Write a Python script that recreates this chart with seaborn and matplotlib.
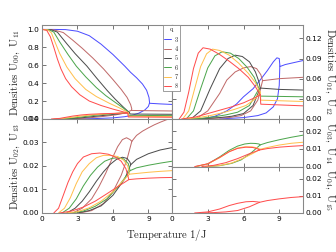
import matplotlib
matplotlib.use("Agg")
import matplotlib.pyplot as plt
import matplotlib.ticker as mticker
import pandas as pd
import seaborn as sns

# ---------------- data ----------------
Q_LEVELS = ["3", "4", "5", "6", "7", "8"]
COLORS = ["#4d4dff", "#c06a6a", "#4d4d4d", "#4da64d", "#ffc04d", "#ff4d4d"]

# Panel A: U00 ordered branch
A_ord_T = {
    "3": [0, 1, 2, 3, 4, 5, 6, 7, 7.5, 8, 8.5, 8.85, 9.05, 9.1],
    "4": [0, 1, 1.8, 2.6, 3.4, 4.3, 5.2, 6.0, 6.7, 7.2, 7.5, 7.6, 7.55],
    "5": [0, 0.8, 1.3, 2.1, 2.8, 3.8, 4.6, 5.5, 6.2, 6.9, 7.4],
    "6": [0, 0.6, 1.0, 1.5, 2.2, 2.9, 3.7, 4.6, 5.4, 6.3, 6.9, 7.3],
    "7": [0, 0.5, 0.8, 1.1, 1.5, 2.1, 2.8, 3.7, 4.6, 5.7, 6.6, 7.3],
    "8": [0, 0.4, 0.7, 1.0, 1.3, 1.6, 2.0, 2.5, 3.2, 4.0, 5.0, 6.0, 7.25],
}
A_ord_v = {
    "3": [1, 1, 0.998, 0.98, 0.93, 0.835, 0.72, 0.59, 0.52, 0.46, 0.39, 0.32, 0.24, 0.18],
    "4": [1, 0.995, 0.965, 0.88, 0.79, 0.68, 0.56, 0.44, 0.33, 0.24, 0.16, 0.11, 0.095],
    "5": [1, 0.995, 0.97, 0.84, 0.73, 0.59, 0.46, 0.32, 0.22, 0.13, 0.07],
    "6": [1, 0.995, 0.97, 0.86, 0.72, 0.59, 0.47, 0.35, 0.26, 0.175, 0.12, 0.075],
    "7": [1, 0.995, 0.96, 0.86, 0.73, 0.58, 0.45, 0.33, 0.25, 0.175, 0.12, 0.07],
    "8": [1, 0.99, 0.92, 0.8, 0.67, 0.56, 0.45, 0.36, 0.27, 0.2, 0.15, 0.11, 0.066],
}
# Panel A: U11 (rises from zero)
A_low_T = {
    "3": [3, 4.5, 6, 7, 7.6, 8.2, 8.7, 9.0, 9.1],
    "4": [2.0, 3.2, 4.2, 5.2, 6.2, 7.0, 7.55],
    "5": [1.6, 2.6, 3.5, 4.4, 5.4, 6.4, 7.0, 7.4],
    "6": [1.2, 2.2, 3.0, 3.8, 4.7, 5.7, 6.6, 7.3],
    "7": [1.0, 1.8, 2.5, 3.3, 4.2, 5.2, 6.2, 7.3],
    "8": [0.8, 1.5, 2.0, 2.6, 3.3, 4.0, 5.0, 6.0, 7.25],
}
A_low_v = {
    "3": [0, 0.004, 0.012, 0.025, 0.04, 0.065, 0.1, 0.14, 0.18],
    "4": [0, 0.005, 0.015, 0.028, 0.045, 0.065, 0.095],
    "5": [0, 0.005, 0.015, 0.028, 0.042, 0.056, 0.064, 0.07],
    "6": [0, 0.006, 0.016, 0.03, 0.044, 0.056, 0.065, 0.075],
    "7": [0, 0.006, 0.018, 0.032, 0.045, 0.055, 0.062, 0.07],
    "8": [0, 0.006, 0.018, 0.032, 0.044, 0.052, 0.058, 0.062, 0.066],
}
# Panel A: high-temperature branch
A_hi_T = {
    "3": [9.1, 10, 11],
    "4": [7.55, 9, 11],
    "5": [7.4, 7.45, 11],
    "6": [7.3, 7.35, 11],
    "7": [7.3, 7.35, 11],
    "8": [7.25, 7.3, 11],
}
A_hi_v = {
    "3": [0.175, 0.168, 0.162],
    "4": [0.095, 0.092, 0.089],
    "5": [0.07, 0.055, 0.052],
    "6": [0.075, 0.04, 0.037],
    "7": [0.07, 0.03, 0.026],
    "8": [0.066, 0.022, 0.019],
}

# Panel B: U01 bells
B_ord_T = {
    "3": [2.6, 3.6, 4.6, 5.4, 6.0, 6.8, 7.4, 8.0, 8.5, 8.8, 9.0, 9.05],
    "4": [2.0, 3.0, 4.0, 4.6, 5.3, 6.0, 6.6, 7.1, 7.45, 7.6],
    "5": [1.6, 2.4, 3.2, 4.0, 4.7, 5.3, 5.9, 6.5, 7.0, 7.3, 7.4],
    "6": [1.2, 1.8, 2.4, 3.0, 3.6, 4.2, 4.9, 5.6, 6.3, 6.9, 7.3],
    "7": [0.9, 1.4, 1.9, 2.4, 2.9, 3.4, 4.0, 4.8, 5.6, 6.4, 7.0, 7.4],
    "8": [0.6, 1.0, 1.4, 1.8, 2.2, 2.6, 3.2, 4.0, 4.8, 5.6, 6.4, 7.0, 7.4],
}
B_ord_v = {
    "3": [0, 0.004, 0.012, 0.022, 0.033, 0.045, 0.058, 0.072, 0.085, 0.091, 0.09, 0.08],
    "4": [0, 0.012, 0.038, 0.058, 0.07, 0.076, 0.078, 0.075, 0.066, 0.057],
    "5": [0, 0.012, 0.045, 0.075, 0.09, 0.095, 0.093, 0.085, 0.07, 0.055, 0.046],
    "6": [0, 0.012, 0.045, 0.076, 0.094, 0.1, 0.098, 0.09, 0.077, 0.062, 0.045],
    "7": [0, 0.012, 0.045, 0.078, 0.097, 0.104, 0.102, 0.095, 0.083, 0.068, 0.054, 0.04],
    "8": [0, 0.01, 0.04, 0.075, 0.098, 0.106, 0.104, 0.096, 0.086, 0.075, 0.062, 0.048, 0.036],
}
# Panel B: U12
B_low_T = {
    "3": [4, 6, 7.2, 7.9, 8.5, 8.85, 9.0, 9.05],
    "4": [2.2, 3.5, 4.8, 5.8, 6.6, 7.2, 7.6],
    "5": [1.7, 3, 4, 5, 6, 6.8, 7.4],
    "6": [1.3, 2.5, 3.5, 4.5, 5.5, 6.5, 7.3],
    "7": [1.0, 2.2, 3.2, 4.2, 5.2, 6.2, 7, 7.4],
    "8": [0.8, 2, 3, 4, 5, 6, 7, 7.4],
}
B_low_v = {
    "3": [0, 0.002, 0.005, 0.009, 0.018, 0.03, 0.05, 0.08],
    "4": [0, 0.001, 0.002, 0.005, 0.012, 0.028, 0.057],
    "5": [0, 0.001, 0.002, 0.004, 0.008, 0.02, 0.046],
    "6": [0, 0.001, 0.003, 0.006, 0.01, 0.02, 0.045],
    "7": [0, 0.002, 0.005, 0.009, 0.014, 0.02, 0.03, 0.04],
    "8": [0, 0.003, 0.008, 0.013, 0.018, 0.024, 0.032, 0.036],
}
B_hi_T = {
    "3": [9.05, 9.5, 10, 11],
    "4": [7.6, 9, 11],
    "5": [7.4, 9, 11],
    "6": [7.3, 7.4, 11],
    "7": [7.4, 7.45, 11],
    "8": [7.4, 7.45, 11],
}
B_hi_v = {
    "3": [0.078, 0.081, 0.083, 0.087],
    "4": [0.057, 0.06, 0.062],
    "5": [0.046, 0.044, 0.043],
    "6": [0.045, 0.034, 0.033],
    "7": [0.04, 0.028, 0.026],
    "8": [0.036, 0.022, 0.0195],
}

# Panel C: U02 bells, U13, high-T branch
C_ord_T = {
    "4": [2.6, 3.4, 4.2, 4.8, 5.4, 5.9, 6.4, 6.8, 7.15, 7.45, 7.6],
    "5": [2.1, 2.8, 3.4, 4.0, 4.6, 5.2, 5.8, 6.3, 6.8, 7.2, 7.45, 7.5],
    "6": [1.7, 2.3, 2.9, 3.5, 4.1, 4.7, 5.3, 5.9, 6.4, 6.9, 7.3, 7.45],
    "7": [1.4, 1.9, 2.4, 2.9, 3.4, 4.0, 4.6, 5.2, 5.8, 6.4, 6.9, 7.25, 7.4],
    "8": [1.0, 1.4, 1.8, 2.2, 2.6, 3.0, 3.5, 4.2, 4.9, 5.6, 6.2, 6.7, 7.1, 7.35],
}
C_ord_v = {
    "4": [0, 0.002, 0.006, 0.011, 0.017, 0.0228, 0.0282, 0.0312, 0.032, 0.0312, 0.0305],
    "5": [0, 0.002, 0.005, 0.009, 0.0135, 0.0175, 0.0208, 0.0228, 0.0237, 0.0232, 0.0215, 0.0205],
    "6": [0, 0.002, 0.006, 0.0115, 0.016, 0.0195, 0.022, 0.0232, 0.0235, 0.023, 0.021, 0.018],
    "7": [0, 0.002, 0.0065, 0.0125, 0.0175, 0.021, 0.0235, 0.0245, 0.0245, 0.024, 0.0225, 0.02, 0.0165],
    "8": [0, 0.002, 0.0075, 0.013, 0.0175, 0.021, 0.0238, 0.0252, 0.0255, 0.025, 0.0238, 0.022, 0.0188, 0.0142],
}
C_low_T = {
    "4": [3.2, 4.2, 5.2, 6.0, 6.7, 7.2, 7.6],
    "5": [3, 4, 5, 6, 7, 7.5],
    "6": [2.5, 3.5, 4.5, 5.5, 6.5, 7.45],
    "7": [2, 3, 4, 5, 6, 7, 7.4],
    "8": [1.5, 2.5, 3.5, 4.5, 5.5, 6.5, 7.35],
}
C_low_v = {
    "4": [0, 0.001, 0.004, 0.009, 0.016, 0.023, 0.0305],
    "5": [0, 0.001, 0.003, 0.0075, 0.0145, 0.0205],
    "6": [0, 0.0008, 0.0028, 0.006, 0.0115, 0.018],
    "7": [0, 0.0005, 0.0022, 0.005, 0.009, 0.0145, 0.0165],
    "8": [0, 0.0008, 0.0025, 0.005, 0.0082, 0.0115, 0.0142],
}
C_hi_T = {
    "4": [7.6, 8, 8.5, 9, 9.5, 10, 10.5, 11],
    "5": [7.5, 8, 9, 10, 11],
    "6": [7.45, 8, 9, 10, 11],
    "7": [7.4, 8, 9, 10, 11],
    "8": [7.35, 8, 9, 10, 11],
}
C_hi_v = {
    "4": [0.0305, 0.033, 0.0348, 0.0362, 0.0375, 0.0386, 0.0396, 0.0404],
    "5": [0.0205, 0.0228, 0.0252, 0.0268, 0.0278],
    "6": [0.018, 0.0192, 0.0203, 0.0212, 0.022],
    "7": [0.0165, 0.0168, 0.0173, 0.0177, 0.018],
    "8": [0.0142, 0.0145, 0.0148, 0.015, 0.0151],
}

# Panel D1: U03 bells, U14, high-T
D1_ord_T = {
    "6": [2.0, 3.0, 4.0, 4.8, 5.5, 6.1, 6.6, 7.0, 7.3, 7.4],
    "7": [2.0, 3.0, 4.0, 4.8, 5.5, 6.1, 6.7, 7.1, 7.4],
    "8": [1.9, 3.0, 4.0, 4.8, 5.5, 6.2, 6.8, 7.2, 7.35],
}
D1_ord_v = {
    "6": [0, 0.0015, 0.0055, 0.0092, 0.0116, 0.0128, 0.0132, 0.0131, 0.0128, 0.0123],
    "7": [0, 0.0015, 0.005, 0.0085, 0.0105, 0.0112, 0.0112, 0.0107, 0.0098],
    "8": [0, 0.0016, 0.0052, 0.0084, 0.0103, 0.011, 0.0108, 0.01, 0.0094],
}
D1_low_T = {
    "6": [3, 4, 5, 5.8, 6.6, 7.4],
    "7": [2.8, 4, 5, 6, 6.8, 7.4],
    "8": [2.5, 3.5, 4.5, 5.5, 6.5, 7.35],
}
D1_low_v = {
    "6": [0, 0.0005, 0.0018, 0.0038, 0.0075, 0.0123],
    "7": [0, 0.0006, 0.002, 0.0048, 0.0075, 0.0098],
    "8": [0, 0.0007, 0.0022, 0.0045, 0.0073, 0.0094],
}
D1_hi_T = {
    "6": [7.4, 8, 9, 10, 11],
    "7": [7.4, 8, 9, 10, 11],
    "8": [7.35, 8, 9, 10, 11],
}
D1_hi_v = {
    "6": [0.0123, 0.0136, 0.0152, 0.0166, 0.0178],
    "7": [0.0098, 0.0108, 0.0122, 0.0132, 0.0138],
    "8": [0.0094, 0.0102, 0.011, 0.0115, 0.0119],
}

# Panel D2: U04 bell, U15, high-T
D2_ord_T = {"8": [1.9, 3.0, 4.0, 4.8, 5.5, 6.2, 6.8, 7.2, 7.35]}
D2_ord_v = {"8": [0, 0.0006, 0.0023, 0.0043, 0.0056, 0.0065, 0.0067, 0.0064, 0.0062]}
D2_low_T = {"8": [2.5, 3.5, 4.5, 5.5, 6.5, 7.35]}
D2_low_v = {"8": [0, 0.0002, 0.0006, 0.0014, 0.0036, 0.0062]}
D2_hi_T = {"8": [7.35, 8, 9, 10, 11]}
D2_hi_v = {"8": [0.0062, 0.0072, 0.0082, 0.009, 0.0095]}

XTICKS = [0, 3, 6, 9]

# ---------------- build table ----------------
rows = []


def add(panel, branch, Td, vd):
    for q in Td:
        for t, v in zip(Td[q], vd[q]):
            rows.append({"panel": panel, "q": q, "seg": f"{branch}{q}", "T": t, "v": v})


for p, groups in {
    "A": [("o", A_ord_T, A_ord_v), ("l", A_low_T, A_low_v), ("h", A_hi_T, A_hi_v)],
    "B": [("o", B_ord_T, B_ord_v), ("l", B_low_T, B_low_v), ("h", B_hi_T, B_hi_v)],
    "C": [("o", C_ord_T, C_ord_v), ("l", C_low_T, C_low_v), ("h", C_hi_T, C_hi_v)],
    "D1": [("o", D1_ord_T, D1_ord_v), ("l", D1_low_T, D1_low_v), ("h", D1_hi_T, D1_hi_v)],
    "D2": [("o", D2_ord_T, D2_ord_v), ("l", D2_low_T, D2_low_v), ("h", D2_hi_T, D2_hi_v)],
}.items():
    for b, Td, vd in groups:
        add(p, b, Td, vd)
df = pd.DataFrame(rows)

# ---------------- style ----------------
sns.set_style("ticks")
plt.rcParams.update({
    "mathtext.fontset": "cm",
    "font.family": ["DejaVu Sans"],
    "axes.edgecolor": "#888888",
    "axes.linewidth": 0.8,
    "xtick.color": "#555555",
    "ytick.color": "#555555",
    "xtick.labelcolor": "black",
    "ytick.labelcolor": "black",
})

fig = plt.figure(figsize=(3.5, 2.625), dpi=96)
axes = {
    "A": fig.add_axes([0.125, 0.528, 0.387, 0.373]),
    "B": fig.add_axes([0.512, 0.528, 0.390, 0.373]),
    "C": fig.add_axes([0.125, 0.155, 0.387, 0.373]),
    "D1": fig.add_axes([0.512, 0.339, 0.390, 0.189]),
    "D2": fig.add_axes([0.512, 0.155, 0.390, 0.184]),
}
ylims = {"A": (0, 1.05), "B": (0, 0.14), "C": (0, 0.04), "D1": (0, 0.027), "D2": (0, 0.027)}
yticks = {
    "A": [0, 0.2, 0.4, 0.6, 0.8, 1.0],
    "B": [0, 0.03, 0.06, 0.09, 0.12],
    "C": [0, 0.01, 0.02, 0.03, 0.04],
    "D1": [0, 0.01, 0.02],
    "D2": [0, 0.01, 0.02],
}
pal = dict(zip(Q_LEVELS, COLORS))

for p, ax in axes.items():
    sub = df[df.panel == p]
    sns.lineplot(data=sub, x="T", y="v", hue="q", hue_order=Q_LEVELS, palette=pal,
                 units="seg", estimator=None, sort=False, lw=0.75,
                 legend=(p == "B"), ax=ax)
    ax.set_xlim(0, 11)
    ax.set_ylim(*ylims[p])
    ax.set_xticks(XTICKS)
    ax.set_yticks(yticks[p])
    ax.set_xlabel("")
    ax.set_ylabel("")
    ax.tick_params(direction="in", top=True, right=True, length=3, width=0.6,
                   labelsize=5.5, pad=2)
    if p == "A":
        ax.yaxis.set_major_formatter(mticker.FormatStrFormatter("%.1f"))
    else:
        ax.yaxis.set_major_formatter(mticker.FormatStrFormatter("%.2f"))
    if p in ("A", "B", "D1"):
        ax.tick_params(labelbottom=False)
    if p in ("B", "D1", "D2"):
        ax.tick_params(labelleft=False, labelright=True)
    for s in ax.spines.values():
        s.set_visible(True)

# legend
axB = axes["B"]
h, l = axB.get_legend_handles_labels()
leg = axB.legend(h, [rf"$\mathrm{{{x}}}$" for x in l], title=r"$\mathrm{q}$",
                 loc="upper left", bbox_to_anchor=(-0.068, 1.0), fontsize=4.8,
                 title_fontsize=4.8, fancybox=False, edgecolor="#888888",
                 framealpha=1, handlelength=1.0, handletextpad=0.5,
                 labelspacing=0.05, borderpad=0.2, borderaxespad=0)
leg.get_frame().set_linewidth(0.6)

lab = dict(fontsize=8)
fig.text(0.045, 0.714, r"$\mathrm{Densities\ U_{00},\ U_{11}}$", rotation=90, ha="center", va="center", **lab)
fig.text(0.045, 0.341, r"$\mathrm{Densities\ U_{02},\ U_{13}}$", rotation=90, ha="center", va="center", **lab)
fig.text(0.980, 0.714, r"$\mathrm{Densities\ U_{01},\ U_{12}}$", rotation=270, ha="center", va="center", **lab)
fig.text(0.980, 0.433, r"$\mathrm{U_{03},\ U_{14}}$", rotation=270, ha="center", va="center", **lab)
fig.text(0.980, 0.246, r"$\mathrm{U_{04},\ U_{15}}$", rotation=270, ha="center", va="center", **lab)
fig.text(0.497, 0.067, r"$\mathrm{Temperature\ 1/J}$", ha="center", va="center", **lab)

fig.savefig("out.png", dpi=96)
